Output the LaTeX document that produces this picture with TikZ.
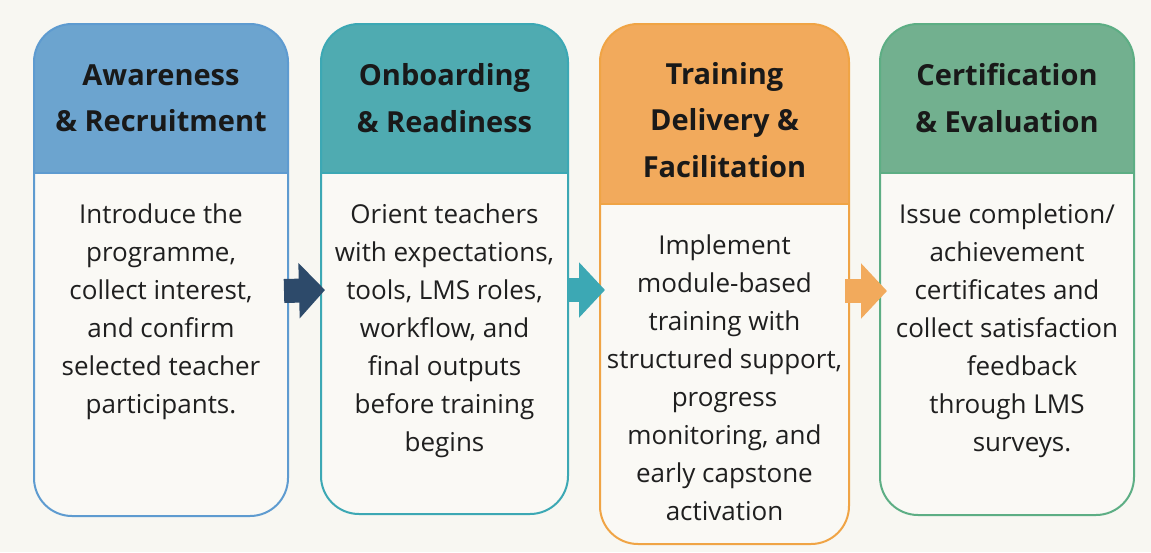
\documentclass[tikz,border=0pt]{standalone}
\usepackage{fontspec}
\setmainfont{Open Sans}
\usepackage{tikz}
\usetikzlibrary{calc,positioning,arrows.meta}

\definecolor{paper}{HTML}{F8F7F2}
\definecolor{bodyfill}{HTML}{FAF9F5}
\definecolor{blueline}{HTML}{5E9BD0}
\definecolor{bluehead}{HTML}{6CA4CF}
\definecolor{tealline}{HTML}{3CA8B4}
\definecolor{tealhead}{HTML}{4FABB1}
\definecolor{orangeline}{HTML}{F0A445}
\definecolor{orangehead}{HTML}{F2AA5C}
\definecolor{greenline}{HTML}{5DAE84}
\definecolor{greenhead}{HTML}{72B08F}
\definecolor{navy}{HTML}{2D4A6A}

\tikzset{
    card/.style={rectangle, rounded corners=38pt, line width=2pt, fill=bodyfill,
        inner sep=0pt, anchor=north west},
    headfill/.style n args={3}{path picture={
        \fill[#1, sharp corners] (path picture bounding box.north west) rectangle ([yshift=-#3]path picture bounding box.north east);
        \draw[#2, sharp corners, line width=1.2pt] ([yshift=-#3]path picture bounding box.north west) -- ([yshift=-#3]path picture bounding box.north east);}},
    headtxt/.style={align=center, inner sep=0pt, font=\fontsize{29}{46.5}\selectfont\bfseries, text=black!90},
    bodytxt/.style={align=center, inner sep=0pt, anchor=north, font=\fontsize{26}{38}\selectfont, text=black!88},
    bigarrow/.style={draw=#1, line width=24pt, -{Triangle[length=26pt,width=54pt]}}
}

\begin{document}
\begin{tikzpicture}[x=1pt, y=1pt]
        \fill[paper] (0,0) rectangle (1151,-552);
        \useasboundingbox (0,0) rectangle (1151,-552);

        % the four stages
        \node[card, draw=blueline, headfill={bluehead}{blueline}{149pt}, minimum width=254pt, minimum height=492pt] (aware) at (33,-23) {};
        \node[card, draw=tealline, headfill={tealhead}{tealline}{149pt}, minimum width=247pt, minimum height=490pt] (onboard) at (320,-23) {};
        \node[card, draw=orangeline, headfill={orangehead}{orangeline}{180pt}, minimum width=249pt, minimum height=520pt] (deliver) at (599,-23) {};
        \node[card, draw=greenline, headfill={greenhead}{greenline}{149pt}, minimum width=254pt, minimum height=491pt] (certify) at (879,-23) {};

        % headings
        \node[headtxt] (aware-t) at ([yshift=-75pt]aware.north) {Awareness\\ \& Recruitment};
        \node[headtxt] (onboard-t) at ([yshift=-75pt]onboard.north) {Onboarding\\ \& Readiness};
        \node[headtxt] (deliver-t) at ([yshift=-97pt]deliver.north) {Training\\ Delivery \&\\ Facilitation};
        \node[headtxt] (certify-t) at ([yshift=-75pt]certify.north) {Certification\\ \& Evaluation};

        % descriptions
        \node[bodytxt] (aware-b) at ([yshift=-181pt]aware.north) {Introduce the\\ programme,\\ collect interest,\\ and confirm\\ selected teacher\\ participants.};
        \node[bodytxt] (onboard-b) at ([yshift=-181pt]onboard.north) {Orient teachers\\ with expectations,\\ tools, LMS roles,\\ workflow, and\\ final outputs\\ before training\\ begins};
        \node[bodytxt] (deliver-b) at ([yshift=-212pt]deliver.north) {Implement\\ module-based\\ training with\\ structured support,\\ progress\\ monitoring, and\\ early capstone\\ activation};
        \node[bodytxt] (certify-b) at ([yshift=-181pt]certify.north) {Issue completion/\\ achievement\\ certificates and\\ collect satisfaction\\ \hspace*{30pt}feedback\\ through LMS\hspace*{58pt}\\ \hspace*{30pt}surveys.};

        % arrows between stages
        \draw[bigarrow=navy] ($(aware.east)+(-5,-21)$) -- ($(onboard.west)+(5,-21)$);
        \draw[bigarrow=tealline] ($(onboard.east)+(-2,-21)$) -- ($(deliver.west)+(6,-6)$);
        \draw[bigarrow=orangehead] ($(deliver.east)+(-5,-7)$) -- ($(certify.west)+(8,-21.5)$);
    \end{tikzpicture}
\end{document}
